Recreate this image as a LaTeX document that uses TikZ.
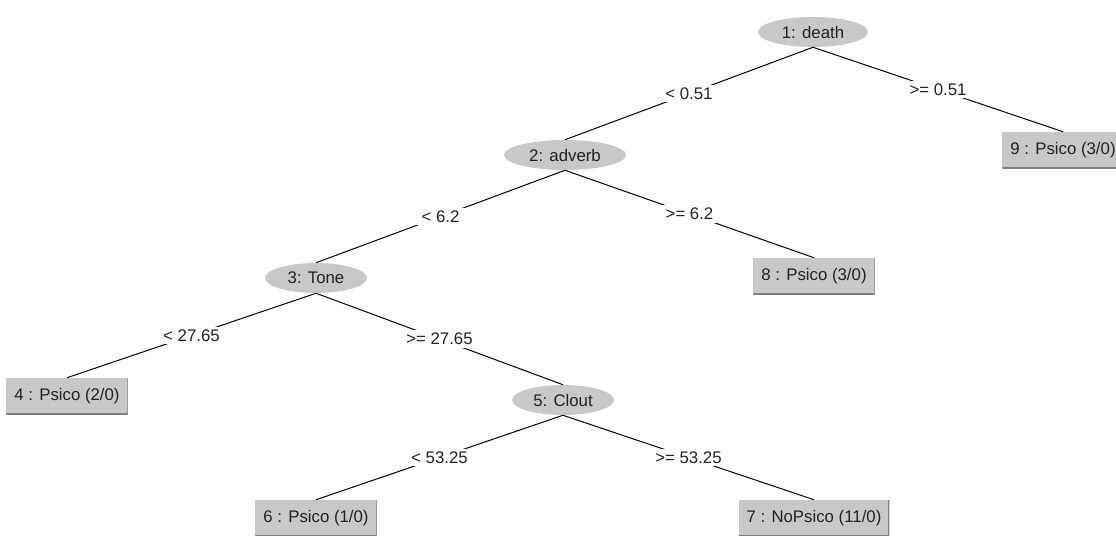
\documentclass[tikz,border=0pt]{standalone}
\usepackage{fontspec}
\setmainfont{Liberation Sans}
\usetikzlibrary{shapes.geometric}
\definecolor{nodegray}{HTML}{C8C8C8}
\definecolor{edgegray}{HTML}{808080}
\definecolor{txt}{HTML}{222222}
\begin{document}
\begin{tikzpicture}[x=0.75pt,y=-0.75pt,
  every node/.style={font=\fontsize{12.6}{15}\selectfont, text=txt},
  split/.style={ellipse, fill=nodegray, minimum height=30*0.75pt, inner sep=0pt},
  leaf/.style={rectangle, fill=nodegray, minimum height=36*0.75pt, inner xsep=6pt, inner ysep=0pt,
    path picture={\draw[edgegray, line width=1.5pt]
      (path picture bounding box.south west) -- (path picture bounding box.south east)
      -- (path picture bounding box.north east);}},
  lbl/.style={fill=white, inner xsep=4pt, inner ysep=2pt},
  edge/.style={draw=black, line width=0.75pt}]
\useasboundingbox (0,0) rectangle (1116,535);
\node[split, minimum width=110*0.75pt] (n1) at (813,32) {1: death};
\node[split, minimum width=122*0.75pt] (n2) at (565,155) {2: adverb};
\node[split, minimum width=102*0.75pt] (n3) at (316,278) {3: Tone};
\node[split, minimum width=102*0.75pt] (n5) at (563,400) {5: Clout};
\node[leaf] (l9) at (1063,150) {9 : Psico (3/0)};
\node[leaf] (l8) at (814,276) {8 : Psico (3/0)};
\node[leaf] (l4) at (67,396) {4 : Psico (2/0)};
\node[leaf] (l6) at (316,518) {6 : Psico (1/0)};
\node[leaf] (l7) at (814,518) {7 : NoPsico (11/0)};
\path[edge] (n1.south) -- node[lbl] {< 0.51} (n2.north);
\path[edge] (n1.south) -- node[lbl] {>= 0.51} (l9.north);
\path[edge] (n2.south) -- node[lbl] {< 6.2} (n3.north);
\path[edge] (n2.south) -- node[lbl] {>= 6.2} (l8.north);
\path[edge] (n3.south) -- node[lbl] {< 27.65} (l4.north);
\path[edge] (n3.south) -- node[lbl] {>= 27.65} (n5.north);
\path[edge] (n5.south) -- node[lbl] {< 53.25} (l6.north);
\path[edge] (n5.south) -- node[lbl] {>= 53.25} (l7.north);
\end{tikzpicture}
\end{document}
